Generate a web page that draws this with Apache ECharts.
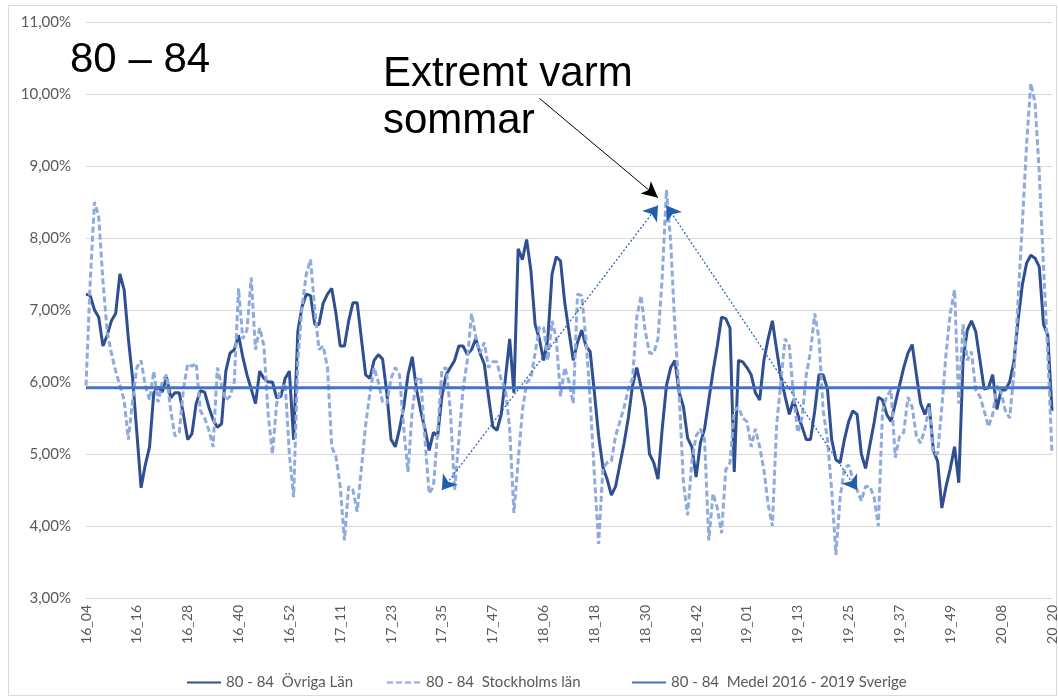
<!DOCTYPE html>
<html><head><meta charset="utf-8">
<script src="https://cdn.jsdelivr.net/npm/echarts@6/dist/echarts.min.js"></script>
<style>html,body{margin:0;padding:0;background:#fff}#c{width:1058px;height:698px}</style>
</head><body><div id="c"></div>
<script>
// Week categories: [year, firstWeek, lastWeek]
const yearWeeks = [[16,4,53],[17,1,53],[18,1,53],[19,1,53],[20,1,20]];
const categories = [];
yearWeeks.forEach(([y,a,b]) => { for (let w = a; w <= b; w++) categories.push(y + '_' + String(w).padStart(2,'0')); });

const seriesNames = ['80 - 84  Övriga Län', '80 - 84  Stockholms län', '80 - 84  Medel 2016 - 2019 Sverige'];

const ovrigaLan = [
7.22,7.2,7.0,6.9,6.5,6.65,6.85,6.95,7.5,7.28,6.6,6.05,5.3,4.53,4.85,5.1,5.85,5.93,5.86,6.07,
5.78,5.85,5.85,5.55,5.2,5.28,5.7,5.88,5.86,5.65,5.48,5.37,5.42,6.15,6.4,6.45,6.65,6.35,6.1,5.9,
5.7,6.15,6.05,6.0,6.0,5.78,5.8,6.05,6.15,5.2,6.7,7.05,7.22,7.2,6.8,6.8,7.1,7.22,7.3,6.95,
6.5,6.5,6.85,7.1,7.1,6.6,6.1,6.05,6.3,6.38,6.32,5.85,5.2,5.1,5.35,5.65,6.1,6.35,5.9,5.6,
5.35,5.05,5.3,5.25,5.8,6.1,6.2,6.3,6.5,6.5,6.38,6.45,6.6,6.4,6.25,5.8,5.38,5.33,5.55,6.05,
6.6,5.85,7.85,7.7,7.98,7.55,6.8,6.6,6.3,6.6,7.5,7.74,7.68,7.1,6.7,6.3,6.55,6.72,6.5,6.42,
5.85,5.25,4.82,4.65,4.43,4.55,4.85,5.15,5.5,5.95,6.2,5.93,5.65,5.0,4.88,4.65,5.35,5.95,6.2,6.3,
5.85,5.66,5.22,5.1,4.68,5.15,5.35,5.75,6.15,6.5,6.9,6.88,6.75,4.75,6.3,6.28,6.2,6.1,5.85,5.75,
6.3,6.6,6.85,6.45,6.07,5.8,5.55,5.75,5.55,5.38,5.2,5.2,5.6,6.1,6.1,5.9,5.2,4.92,4.88,5.2,
5.45,5.6,5.55,5.0,4.8,5.12,5.43,5.79,5.75,5.55,5.45,5.7,5.95,6.2,6.4,6.52,6.1,5.7,5.55,5.7,
5.05,4.9,4.25,4.55,4.8,5.1,4.6,6.3,6.72,6.85,6.7,6.3,5.9,5.92,6.1,5.62,5.89,5.89,6.0,6.28,
6.86,7.35,7.65,7.76,7.72,7.6,6.8,6.65,5.6
];

const stockholmsLan = [
5.95,7.4,8.5,8.3,7.4,6.7,6.4,6.15,5.95,5.75,5.2,5.75,6.2,6.3,5.95,5.75,6.15,5.72,6.0,6.1,
5.6,5.25,5.3,5.9,6.25,6.22,6.26,5.6,5.5,5.33,5.1,6.2,5.95,5.75,5.8,6.0,7.3,6.6,6.72,7.45,
6.45,6.75,6.5,5.55,5.0,5.7,5.9,5.98,5.0,4.4,6.3,7.05,7.5,7.7,7.0,6.45,6.5,6.2,5.1,4.96,
4.55,3.8,4.55,4.5,4.2,4.8,5.4,5.85,6.2,6.0,5.72,5.7,6.05,6.2,6.1,5.35,4.75,5.6,6.03,6.07,
5.2,4.45,4.55,5.3,6.17,6.2,5.6,4.5,5.2,5.9,6.3,6.95,6.63,6.4,6.55,6.2,6.28,6.28,6.03,5.9,
5.35,4.18,4.9,5.6,5.99,6.05,6.4,6.76,6.76,6.3,6.85,6.6,5.8,6.2,6.0,5.7,7.22,7.2,6.6,5.75,
4.7,3.75,4.8,4.88,4.9,5.25,5.45,5.65,5.9,6.05,6.9,7.2,6.7,6.4,6.4,6.6,7.45,8.67,7.95,6.75,
5.85,4.6,4.15,4.9,5.25,5.35,5.2,3.8,4.45,4.25,3.9,4.78,4.88,5.6,5.65,5.5,5.45,5.1,5.35,5.1,
4.78,4.3,4.0,5.4,6.0,6.6,6.5,5.8,5.3,5.5,6.1,6.42,6.95,6.6,5.6,5.2,4.5,3.6,4.4,4.8,
4.85,4.65,4.5,4.35,4.55,4.55,4.4,4.0,5.6,5.8,5.89,4.95,5.24,5.3,5.79,5.65,5.25,5.15,5.35,5.65,
5.0,5.0,5.65,6.4,6.96,7.28,5.7,6.8,6.3,6.42,5.89,5.8,5.6,5.38,5.55,5.95,5.85,5.6,5.5,6.1,
7.15,8.2,9.3,10.15,9.88,8.9,7.6,6.4,5.0
];

const medelSverige = 5.92;
const medelLine = categories.map(() => medelSverige);

const yMin = 3, yMax = 11, yStep = 1;

const fontUI = 'Lato, "Open Sans", sans-serif';
const fontBig = '"Liberation Sans", Arial, sans-serif';

const legendBase = {
  top: 670, itemWidth: 34, itemHeight: 14,
  itemStyle: {opacity: 0},
  textStyle: {color: '#595959', fontSize: 15, fontFamily: fontUI}
};

const chart = echarts.init(document.getElementById('c'), null, {renderer: 'canvas'});
chart.setOption({
  animation: false,
  backgroundColor: '#fff',
  grid: {left: 86, right: 6, top: 22, bottom: 100, outerBoundsMode: 'none'},
  xAxis: {
    type: 'category', data: categories, boundaryGap: false,
    axisLine: {show: true, lineStyle: {color: '#D9D9D9', width: 1}},
    axisTick: {show: false},
    axisLabel: {interval: 11, rotate: 90, color: '#595959', fontSize: 14, fontFamily: fontUI, margin: 7},
    splitLine: {show: false}
  },
  yAxis: {
    type: 'value', min: yMin, max: yMax, interval: yStep,
    axisLine: {show: false}, axisTick: {show: false},
    axisLabel: {color: '#595959', fontSize: 15, fontFamily: fontUI, margin: 15,
      formatter: v => v.toFixed(2).replace('.', ',') + '%'},
    splitLine: {lineStyle: {color: '#D9D9D9', width: 1}}
  },
  legend: [
    Object.assign({left: 181, data: [seriesNames[0]]}, legendBase),
    Object.assign({left: 381, data: [seriesNames[1]]}, legendBase),
    Object.assign({left: 626, data: [seriesNames[2]]}, legendBase)
  ],
  series: [
    {
      name: seriesNames[0], type: 'line', data: ovrigaLan, symbol: 'none', showSymbol: false,
      lineStyle: {color: '#2F4F92', width: 3}, itemStyle: {color: '#2F4F92', opacity: 0},
      markLine: {
        silent: true, animation: false, label: {show: false}, symbolSize: 14,
        emphasis: {disabled: true},
        data: [
          [{coord: [categories[107], 9.94], symbol: 'none', lineStyle: {color: '#000', width: 1, type: 'solid'}},
           {coord: [categories[135], 8.56], symbol: 'arrow', symbolSize: [12, 16]}],
          [{coord: [categories[84], 4.5], symbol: 'arrow', lineStyle: {color: '#1F5FAD', width: 1.2, type: [2, 2]}},
           {coord: [categories[135], 8.45], symbol: 'arrow'}],
          [{coord: [categories[137], 8.45], symbol: 'arrow', lineStyle: {color: '#1F5FAD', width: 1.2, type: [2, 2]}},
           {coord: [categories[182], 4.5], symbol: 'arrow'}]
        ]
      }
    },
    {
      name: seriesNames[1], type: 'line', data: stockholmsLan, symbol: 'none', showSymbol: false,
      lineStyle: {color: '#8FAADC', width: 3, type: [6, 3]}, itemStyle: {color: '#8FAADC', opacity: 0}
    },
    {
      name: seriesNames[2], type: 'line', data: medelLine, symbol: 'none', showSymbol: false,
      lineStyle: {color: '#4472C4', width: 2.8}, itemStyle: {color: '#4472C4', opacity: 0}
    }
  ],
  graphic: [
    {type: 'rect', silent: true, z: -1, shape: {x: 8.5, y: 5.5, width: 1048, height: 690},
     style: {fill: 'none', stroke: '#D9D9D9', lineWidth: 1}},
    {type: 'text', left: 70, top: 39, style: {text: '80 – 84', font: '42px ' + fontBig, fill: '#000'}},
    {type: 'text', left: 383, top: 51, style: {text: 'Extremt varm\nsommar', font: '42px ' + fontBig, lineHeight: 47, fill: '#000'}}
  ]
});
</script></body></html>
